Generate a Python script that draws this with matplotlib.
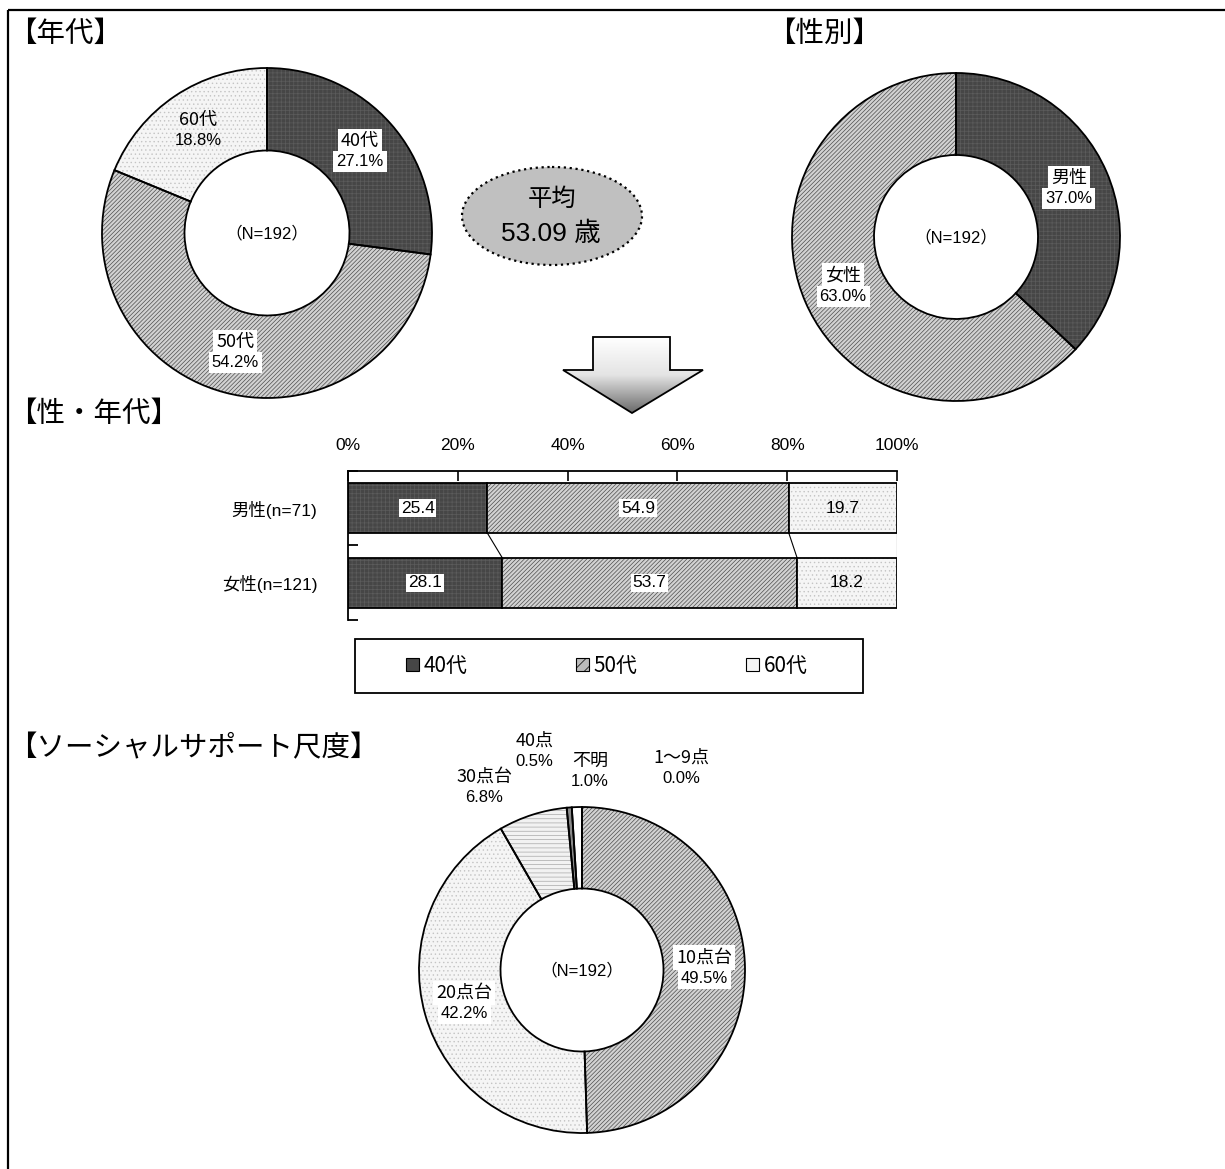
import numpy as np
import matplotlib
matplotlib.use("Agg")
import matplotlib.pyplot as plt
from matplotlib.patches import Ellipse, Polygon, Rectangle, Patch
from matplotlib.colors import LinearSegmentedColormap

# ---- data ----
age_labels = ["40代", "50代", "60代"]
age_share = [27.1, 54.2, 18.8]
sex_labels = ["男性", "女性"]
sex_share = [37.0, 63.0]
mean_age = 53.09
n_total = 192
bar_groups = ["男性(n=71)", "女性(n=121)"]
bar_40s = [25.4, 28.1]
bar_50s = [54.9, 53.7]
bar_60s = [19.7, 18.2]
x_ticks = [0, 20, 40, 60, 80, 100]
score_labels = ["1～9点", "10点台", "20点台", "30点台", "40点", "不明"]
score_share = [0.0, 49.5, 42.2, 6.8, 0.5, 1.0]

# ---- styles ----
JP = "Noto Sans CJK JP"
MIX = ["Liberation Sans", "Noto Sans CJK JP"]
plt.rcParams["hatch.linewidth"] = 0.5

FILL = {
    "dark":   dict(fc="#464646", hatch="++++", hc="#5c5c5c"),
    "diag":   dict(fc="#d2d2d2", hatch="////////", hc="#4e4e4e"),
    "dots":   dict(fc="#f5f5f5", hatch="....", hc="#c4c4c4"),
    "hlines": dict(fc="#f2f2f2", hatch="----", hc="#a8a8a8"),
    "gray":   dict(fc="#8a8a8a", hatch=None, hc="#8a8a8a"),
    "white":  dict(fc="#ffffff", hatch=None, hc="#ffffff"),
}
WHITE_BOX = dict(facecolor="white", edgecolor="none", pad=2.2)

W, H = 1225, 1169
fig = plt.figure(figsize=(W / 100, H / 100), dpi=100)
fig.patch.set_facecolor("white")

# overlay axes in pixel units (origin top-left)
bg = fig.add_axes([0, 0, 1, 1])
bg.patch.set_visible(False)
bg.set_zorder(10)


def donut(cx, cy, R, values, styles, hole=0.5):
    pad = 1.03
    ax = fig.add_axes([(cx - R * pad) / W, 1 - (cy + R * pad) / H,
                       2 * R * pad / W, 2 * R * pad / H])
    wedges, _ = ax.pie(values, startangle=90, counterclock=False, radius=1,
                       wedgeprops=dict(width=1 - hole, linewidth=0))
    for w, s in zip(wedges, styles):
        st = FILL[s]
        w.set_facecolor(st["fc"])
        w.set_edgecolor(st["hc"])
        if st["hatch"]:
            w.set_hatch(st["hatch"])
    ax.pie(values, startangle=90, counterclock=False, radius=1,
           wedgeprops=dict(width=1 - hole, linewidth=1.3, edgecolor="black",
                           fill=False))
    ax.set_xlim(-pad, pad)
    ax.set_ylim(-pad, pad)
    ax.set_aspect("equal")
    ax.axis("off")
    ax.text(0, 0, f"（N={n_total}）", ha="center", va="center",
            fontsize=12, family=MIX)
    return ax, wedges


def two_line(ax, x, y, name, pct, boxed):
    """Category name above its percentage, centred on (x, y)."""
    box = WHITE_BOX if boxed else None
    ax.annotate(name, (x, y), xytext=(0, 7.6), textcoords="offset points",
                ha="center", va="center", fontsize=13, family=JP, bbox=box,
                annotation_clip=False)
    ax.annotate(f"{pct:.1f}%", (x, y), xytext=(0, -7.4),
                textcoords="offset points", ha="center", va="center",
                fontsize=12, family=MIX, bbox=box, annotation_clip=False)


def ring_label(ax, wedge, name, pct, boxed, r=0.75):
    mid = np.deg2rad((wedge.theta1 + wedge.theta2) / 2)
    two_line(ax, r * np.cos(mid), r * np.sin(mid), name, pct, boxed)


# ---- 年代 donut ----
ax1, w1 = donut(267, 233, 165, age_share, ["dark", "diag", "dots"])
for w, name, pct, boxed in zip(w1, age_labels, age_share, [True, True, False]):
    ring_label(ax1, w, name, pct, boxed)

# ---- 性別 donut ----
ax2, w2 = donut(956, 237, 164, sex_share, ["dark", "diag"])
for w, name, pct in zip(w2, sex_labels, sex_share):
    ring_label(ax2, w, name, pct, True)

# ---- ソーシャルサポート尺度 donut ----
ax3, w3 = donut(582, 970, 163, score_share,
                ["white", "diag", "dots", "hlines", "gray", "white"])
ring_label(ax3, w3[1], score_labels[1], score_share[1], True)
ring_label(ax3, w3[2], score_labels[2], score_share[2], True)
outer_pos = {0: (0.61, 1.24), 3: (-0.60, 1.12), 4: (-0.29, 1.34), 5: (0.05, 1.22)}
for i, (x, y) in outer_pos.items():
    two_line(ax3, x, y, score_labels[i], score_share[i], False)

# ---- 性・年代 stacked bars ----
bx = fig.add_axes([348 / W, 1 - 620 / H, 549 / W, 149 / H])
ypos = np.arange(len(bar_groups))
bh = 0.67
series = [bar_40s, bar_50s, bar_60s]
series_style = ["dark", "diag", "dots"]
left = np.zeros(len(bar_groups))
for vals, s in zip(series, series_style):
    st = FILL[s]
    vals = np.asarray(vals)
    bx.barh(ypos, vals, left=left, height=bh, color=st["fc"],
            edgecolor=st["hc"], hatch=st["hatch"], linewidth=0)
    bx.barh(ypos, vals, left=left, height=bh, fill=False, edgecolor="black",
            linewidth=1.3)
    for y, l, v in zip(ypos, left, vals):
        box = dict(facecolor="white", edgecolor="none", pad=1.2) if s != "dots" else None
        bx.text(l + v / 2, y, f"{v:.1f}", ha="center", va="center",
                fontsize=12.5, family=MIX, bbox=box)
    left = left + vals

# series lines joining the segment boundaries
cum = np.cumsum(np.array(series), axis=0)
for row in cum:
    bx.plot(row, [ypos[0] + bh / 2, ypos[1] - bh / 2], color="black", lw=0.8)

bx.set_xlim(0, 100)
bx.set_ylim(1.5, -0.5)
bx.xaxis.tick_top()
bx.set_xticks(x_ticks)
bx.set_xticklabels([f"{t}%" for t in x_ticks], family=MIX, fontsize=12.5)
bx.tick_params(axis="x", direction="in", length=7, width=1.2, pad=13)
bx.set_yticks(ypos)
bx.set_yticklabels(bar_groups, family=MIX, fontsize=12.5)
bx.tick_params(axis="y", which="major", length=0, pad=22)
bx.set_yticks([-0.5, 0.5, 1.5], minor=True)
bx.tick_params(axis="y", which="minor", direction="in", length=7, width=1.3)
for sp in ["right", "bottom"]:
    bx.spines[sp].set_visible(False)
for sp in ["top", "left"]:
    bx.spines[sp].set_linewidth(1.3)
bx.set_facecolor("none")

# legend
handles = [Patch(facecolor=FILL["dark"]["fc"], edgecolor="black", linewidth=0.8),
           Patch(facecolor="#bcbcbc", edgecolor="black", hatch="///", linewidth=0.8),
           Patch(facecolor=FILL["dots"]["fc"], edgecolor="black", linewidth=0.8)]
fig.legend(handles, age_labels, loc="center", ncol=3, frameon=False,
           bbox_to_anchor=(607 / W, 1 - 666 / H), bbox_transform=fig.transFigure,
           handlelength=0.6, handleheight=0.6, handletextpad=0.25,
           columnspacing=5.2, prop=dict(family=JP, size=15))
bg.add_patch(Rectangle((355, 639), 508, 54, fill=False, edgecolor="black", lw=1.3))

# ---- overlay: frame, titles, mean-age ellipse, arrow ----
bg.plot([8, 8], [10, H + 5], color="black", lw=1.6, solid_capstyle="butt")
bg.plot([8, W + 5], [10, 10], color="black", lw=1.6, solid_capstyle="butt")

titles = [("【年代】", 8, 34), ("【性別】", 767, 34),
          ("【性・年代】", 8, 414), ("【ソーシャルサポート尺度】", 8, 748)]
for t, x, y in titles:
    bg.text(x, y, t, ha="left", va="center", fontsize=20.5, family=JP)

bg.add_patch(Ellipse((552, 216), 180, 98, facecolor="#c0c0c0",
                     edgecolor="black", linestyle=":", lw=1.6))
bg.text(552, 199, "平均", ha="center", va="center", fontsize=17.5, family=JP)
bg.text(551, 234, f"{mean_age:.2f} 歳", ha="center", va="center",
        fontsize=19, family=MIX)

arrow_pts = [(593, 337), (670, 337), (670, 370), (703, 370), (632, 413),
             (563, 370), (593, 370)]
arrow = Polygon(arrow_pts, closed=True, facecolor="none", edgecolor="black",
                lw=1.3, zorder=3)
bg.add_patch(arrow)
grad_cmap = LinearSegmentedColormap.from_list("arrow", ["#ffffff", "#e4e4e4", "#6a6a6a"])
grad = np.linspace(0, 1, 200)[:, None]
im = bg.imshow(grad, extent=(563, 703, 413, 337), cmap=grad_cmap,
               aspect="auto", zorder=2, interpolation="bilinear")
im.set_clip_path(arrow)

bg.set_xlim(0, W)
bg.set_ylim(H, 0)
bg.axis("off")

fig.savefig("out.png", dpi=100, facecolor="white")
